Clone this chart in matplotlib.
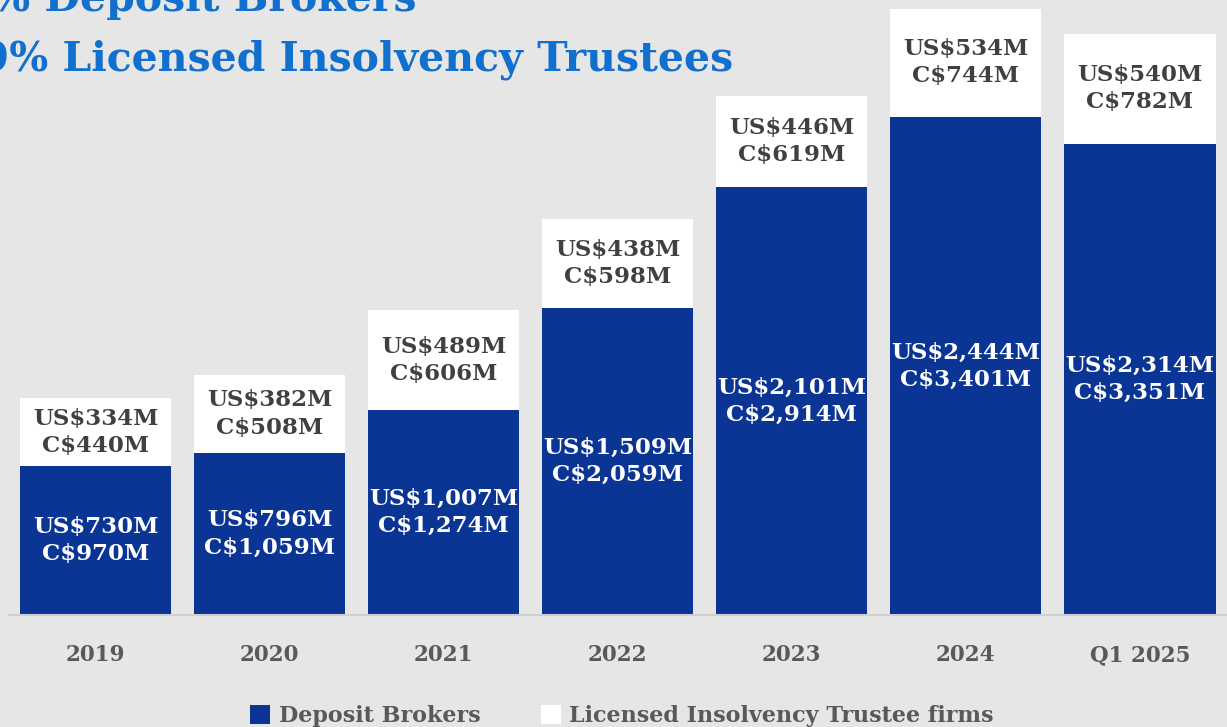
import matplotlib.pyplot as plt
from matplotlib.patches import Patch

# values (bar heights follow the US$ figures)
periods = ['2019', '2020', '2021', '2022', '2023', '2024', 'Q1 2025']
brokers_usd = [730, 796, 1007, 1509, 2101, 2444, 2314]
brokers_cad = [970, 1059, 1274, 2059, 2914, 3401, 3351]
trustees_usd = [334, 382, 489, 438, 446, 534, 540]
trustees_cad = [440, 508, 606, 598, 619, 744, 782]

BG = '#e6e6e6'
BLUE = '#0b3594'
TITLE_BLUE = '#1170cd'
SERIF = 'DejaVu Serif'

fig = plt.figure(figsize=(12.27, 7.27), dpi=100, facecolor=BG)
ax = fig.add_axes([8.5 / 1227, 112 / 727, 1 - 8.5 / 1227, 615 / 727])
ax.set_facecolor(BG)

x = range(len(periods))
ax.bar(x, brokers_usd, width=0.868, color=BLUE, zorder=2)
ax.bar(x, trustees_usd, width=0.868, bottom=brokers_usd, color='white', zorder=2)

for i in x:
    b = brokers_usd[i]
    t = trustees_usd[i]
    ax.text(i, b / 2, f'US${b:,}M\nC${brokers_cad[i]:,}M', ha='center', va='center',
            color='white', fontsize=16.5, fontweight='bold', family=SERIF,
            linespacing=1.3, zorder=3)
    ax.text(i, b + t / 2, f'US${t:,}M\nC${trustees_cad[i]:,}M', ha='center', va='center',
            color='#404040', fontsize=16.5, fontweight='bold', family=SERIF,
            linespacing=1.3, zorder=3)

ax.set_xlim(-0.5, 6.5)
ax.set_ylim(0, 3020)
ax.set_yticks([])
ax.set_xticks(list(x))
ax.set_xticklabels(periods, fontsize=15.5, fontweight='bold', family=SERIF, color='#595959')
ax.tick_params(axis='x', length=0, pad=21)
for side in ['top', 'right', 'left']:
    ax.spines[side].set_visible(False)
ax.spines['bottom'].set_color('#cfcfcf')
ax.spines['bottom'].set_linewidth(1.5)

# title, cut off by the top-left corner in the original
fig.text(416 / 1227, 1 - 11 / 727, '81% Deposit Brokers', ha='right', va='baseline',
         color=TITLE_BLUE, fontsize=29.5, fontweight='bold', family=SERIF)
fig.text(733 / 1227, 1 - 70 / 727, '19% Licensed Insolvency Trustees', ha='right', va='baseline',
         color=TITLE_BLUE, fontsize=29.5, fontweight='bold', family=SERIF)

handles = [Patch(facecolor=BLUE), Patch(facecolor='white')]
fig.legend(handles, ['Deposit Brokers', 'Licensed Insolvency Trustee firms'],
           loc='center', bbox_to_anchor=(622 / 1227, 1 - 716 / 727), ncol=2, frameon=False,
           handlelength=0.9, handleheight=0.9, handletextpad=0.4, columnspacing=2.7,
           prop={'family': SERIF, 'weight': 'bold', 'size': 16}, labelcolor='#595959')

fig.savefig('out.png', dpi=100, facecolor=BG)
